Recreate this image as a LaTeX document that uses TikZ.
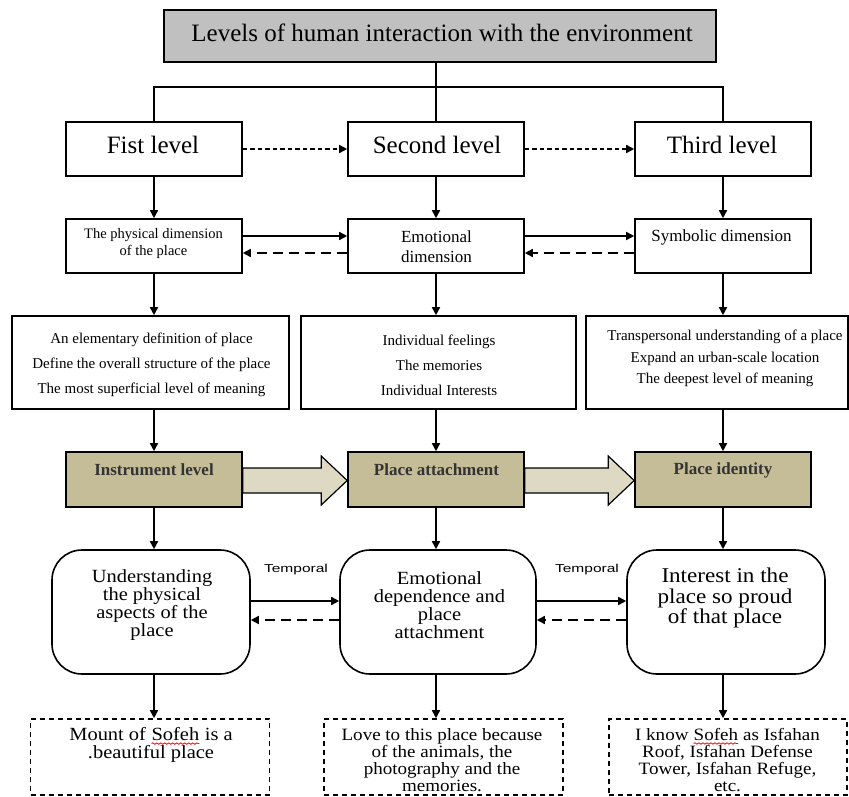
\documentclass[tikz,border=0pt]{standalone}
\usepackage{fontspec}
\setmainfont{Liberation Serif}
\newfontfamily\wideserif[FakeStretch=1.1]{Liberation Serif}
\newfontfamily\tempfont[FakeStretch=1.35]{Liberation Sans}
\usetikzlibrary{arrows.meta,decorations.pathmorphing}
\definecolor{titlegray}{HTML}{C0C0C0}
\definecolor{tanbox}{HTML}{C4BD97}
\definecolor{tanarrow}{HTML}{DDD9C3}
\newcommand{\fs}[2]{\fontsize{#1}{#2}\selectfont}
\newcommand{\sofehword}{\tikz[baseline=(sw.base)]{\node[inner sep=0pt,outer sep=0pt](sw){Sofeh};\draw[red,line width=0.8pt,decorate,decoration={snake,amplitude=0.7pt,segment length=4pt}]([yshift=-3pt]sw.base west)--([yshift=-3pt]sw.base east);}}
\begin{document}
\begin{tikzpicture}[x=1pt,y=-1pt,
  box/.style={draw,line width=1.6pt,inner sep=0pt},
  lvl/.style={box,minimum width=176pt,minimum height=54pt,fill=white},
  desc/.style={box,minimum height=93pt},
  rbox/.style={box,rounded corners=30pt,minimum height=124pt},
  ebox/.style={box,dash pattern=on 5pt off 4pt,minimum height=76pt},
  conn/.style={line width=1.6pt},
  arr/.style={line width=1.6pt,-{Triangle[length=8pt,width=8pt]}},
  darr/.style={arr,dash pattern=on 10pt off 6pt},
  sdarr/.style={arr,dash pattern=on 4.5pt off 3pt},
  txt/.style={inner sep=0pt,align=center},
  blockarrow/.style={draw,line width=1.2pt,fill=tanarrow,line join=miter},
]
\useasboundingbox (0,0) rectangle (849,796);

% title
\node[box,line width=1.8pt,fill=titlegray,minimum width=552pt,minimum height=52pt] (title) at (440,36) {};
\node[txt,font=\fs{25}{28}] (titletext) at (442,33) {Levels of human interaction with the environment};

% level boxes
\node[lvl] (lv1) at (154,149) {};
\node[lvl] (lv2) at (436,149) {};
\node[lvl] (lv3) at (723,149) {};
\node[txt,font=\fs{25}{28}] (lv1t) at (153,145) {Fist level};
\node[txt,font=\fs{25}{28}] (lv2t) at (437,145) {Second level};
\node[txt,font=\fs{25}{28}] (lv3t) at (722,145) {Third level};

\coordinate (bar) at (436,87);
\draw[conn] (title.south -| bar) -- (bar);
\draw[conn] (lv1.north) |- (bar) -| (lv3.north);
\draw[conn] (bar) -- (lv2.north);
\draw[sdarr] (lv1) -- (lv2);
\draw[sdarr] (lv2) -- (lv3);

% dimension boxes
\node[lvl] (d1) at (154,246) {};
\node[lvl] (d2) at (436,246) {};
\node[lvl] (d3) at (723,246) {};
\node[txt,font=\fs{14.5}{17}] (d1t) at (153.5,244) {The physical dimension\\of the place};
\node[txt,font=\fs{17}{20}] (d2t) at (436.5,247) {Emotional\\dimension};
\node[txt,font=\fs{17}{20}] (d3t) at (721.5,237) {Symbolic dimension};
\draw[arr] (lv1) -- (d1);
\draw[arr] (lv2) -- (d2);
\draw[arr] (lv3) -- (d3);
\draw[arr] ([yshift=10pt]d1.east) -- ([yshift=10pt]d2.west);
\draw[arr] ([yshift=10pt]d2.east) -- ([yshift=10pt]d3.west);
\draw[darr] ([yshift=-7pt]d2.west) -- ([yshift=-7pt]d1.east);
\draw[darr] ([yshift=-7pt]d3.west) -- ([yshift=-7pt]d2.east);

% description boxes
\node[desc,minimum width=277pt] (ds1) at (150.5,362.5) {};
\node[desc,minimum width=275pt] (ds2) at (438.5,362.5) {};
\node[desc,minimum width=262pt] (ds3) at (717,362.5) {};
\node[txt,font=\fs{15}{25}] (ds1t) at (151.5,365) {An elementary definition of place\\Define the overall structure of the place\\The most superficial level of meaning};
\node[txt,font=\fs{15}{25}] (ds2t) at (439,365) {Individual feelings\\The memories\\Individual Interests};
\node[txt,font=\fs{15}{21.5}] (ds3t) at (725,358.5) {Transpersonal understanding of a place\\Expand an urban-scale location\\The deepest level of meaning};
\draw[arr] (d1.south) -- (d1.south |- ds1.north);
\draw[arr] (d2.south) -- (d2.south |- ds2.north);
\draw[arr] (d3.south) -- (d3.south |- ds3.north);

% tan boxes
\node[lvl,fill=tanbox,minimum height=55pt] (b1) at (154,479.5) {};
\node[lvl,fill=tanbox,minimum height=55pt] (b2) at (436,479.5) {};
\node[lvl,fill=tanbox,minimum height=55pt] (b3) at (723,479.5) {};
\node[txt,font=\fs{17}{20}\bfseries,text=black!80] (b1t) at (154,470) {Instrument level};
\node[txt,font=\fs{17}{20}\bfseries,text=black!80] (b2t) at (436.5,470) {Place attachment};
\node[txt,font=\fs{17}{20}\bfseries,text=black!80] (b3t) at (723,470) {Place identity};
\draw[arr] (b1.north |- ds1.south) -- (b1.north);
\draw[arr] (b2.north |- ds2.south) -- (b2.north);
\draw[arr] (b3.north |- ds3.south) -- (b3.north);

\draw[blockarrow] ([yshift=11.5pt]b1.east) -- ([xshift=-26pt,yshift=11.5pt]b2.west) -- ([xshift=-26pt,yshift=23.5pt]b2.west) -- ([yshift=-1pt]b2.west) -- ([xshift=-26pt,yshift=-25.5pt]b2.west) -- ([xshift=-26pt,yshift=-13.5pt]b2.west) -- ([yshift=-13.5pt]b1.east) -- cycle;
\draw[blockarrow] ([yshift=11.5pt]b2.east) -- ([xshift=-26pt,yshift=11.5pt]b3.west) -- ([xshift=-26pt,yshift=23.5pt]b3.west) -- ([yshift=-1pt]b3.west) -- ([xshift=-26pt,yshift=-25.5pt]b3.west) -- ([xshift=-26pt,yshift=-13.5pt]b3.west) -- ([yshift=-13.5pt]b2.east) -- cycle;

% rounded boxes
\node[rbox,minimum width=198pt] (r1) at (151,612) {};
\node[rbox,minimum width=196pt] (r2) at (438,612) {};
\node[rbox,minimum width=198pt] (r3) at (726,612) {};
\node[txt,font=\wideserif\fs{18.6}{18}] (r1t) at (152,605.5) {Understanding\\the physical\\aspects of the\\place};
\node[txt,font=\wideserif\fs{18.6}{18}] (r2t) at (439.5,605) {Emotional\\dependence and\\place\\attachment};
\node[txt,font=\wideserif\fs{21}{20.5}] (r3t) at (725,598) {Interest in the\\place so proud\\of that place};
\draw[arr] (b1.south) -- (b1.south |- r1.north);
\draw[arr] (b2.south) -- (b2.south |- r2.north);
\draw[arr] (b3.south) -- (b3.south |- r3.north);
\draw[arr] ([yshift=11pt]r1.east) -- ([yshift=11pt]r1.east -| r2.west);
\draw[arr] ([yshift=11pt]r2.east) -- ([yshift=11pt]r2.east -| r3.west);
\draw[darr] ([yshift=-8pt]r2.west) -- ([yshift=-8pt]r2.west -| r1.east);
\draw[darr] ([yshift=-8pt]r3.west) -- ([yshift=-8pt]r3.west -| r2.east);
\node[txt,font=\tempfont\fs{11.5}{13}] (tp1) at (296,570) {Temporal};
\node[txt,font=\tempfont\fs{11.5}{13}] (tp2) at (587,570) {Temporal};

% example boxes
\node[ebox,minimum width=239pt] (e1) at (150,757) {};
\node[ebox,minimum width=239pt] (e2) at (443.5,757) {};
\node[ebox,minimum width=238pt] (e3) at (728,757) {};
\node[txt,font=\wideserif\fs{18.6}{18}] (e1t) at (151,745) {Mount of \sofehword{} is a\\.beautiful place};
\node[txt,font=\wideserif\fs{17.3}{17}] (e2t) at (442,760) {Love to this place because\\of the animals, the\\photography and the\\memories.};
\node[txt,font=\wideserif\fs{17.3}{17}] (e3t) at (727.5,760) {I know \sofehword{} as Isfahan\\Roof, Isfahan Defense\\Tower, Isfahan Refuge,\\etc.};
\draw[arr] (r1.south -| b1) -- (e1.north -| b1);
\draw[arr] (r2.south -| b2) -- (e2.north -| b2);
\draw[arr] (r3.south -| b3) -- (e3.north -| b3);
\end{tikzpicture}
\end{document}
